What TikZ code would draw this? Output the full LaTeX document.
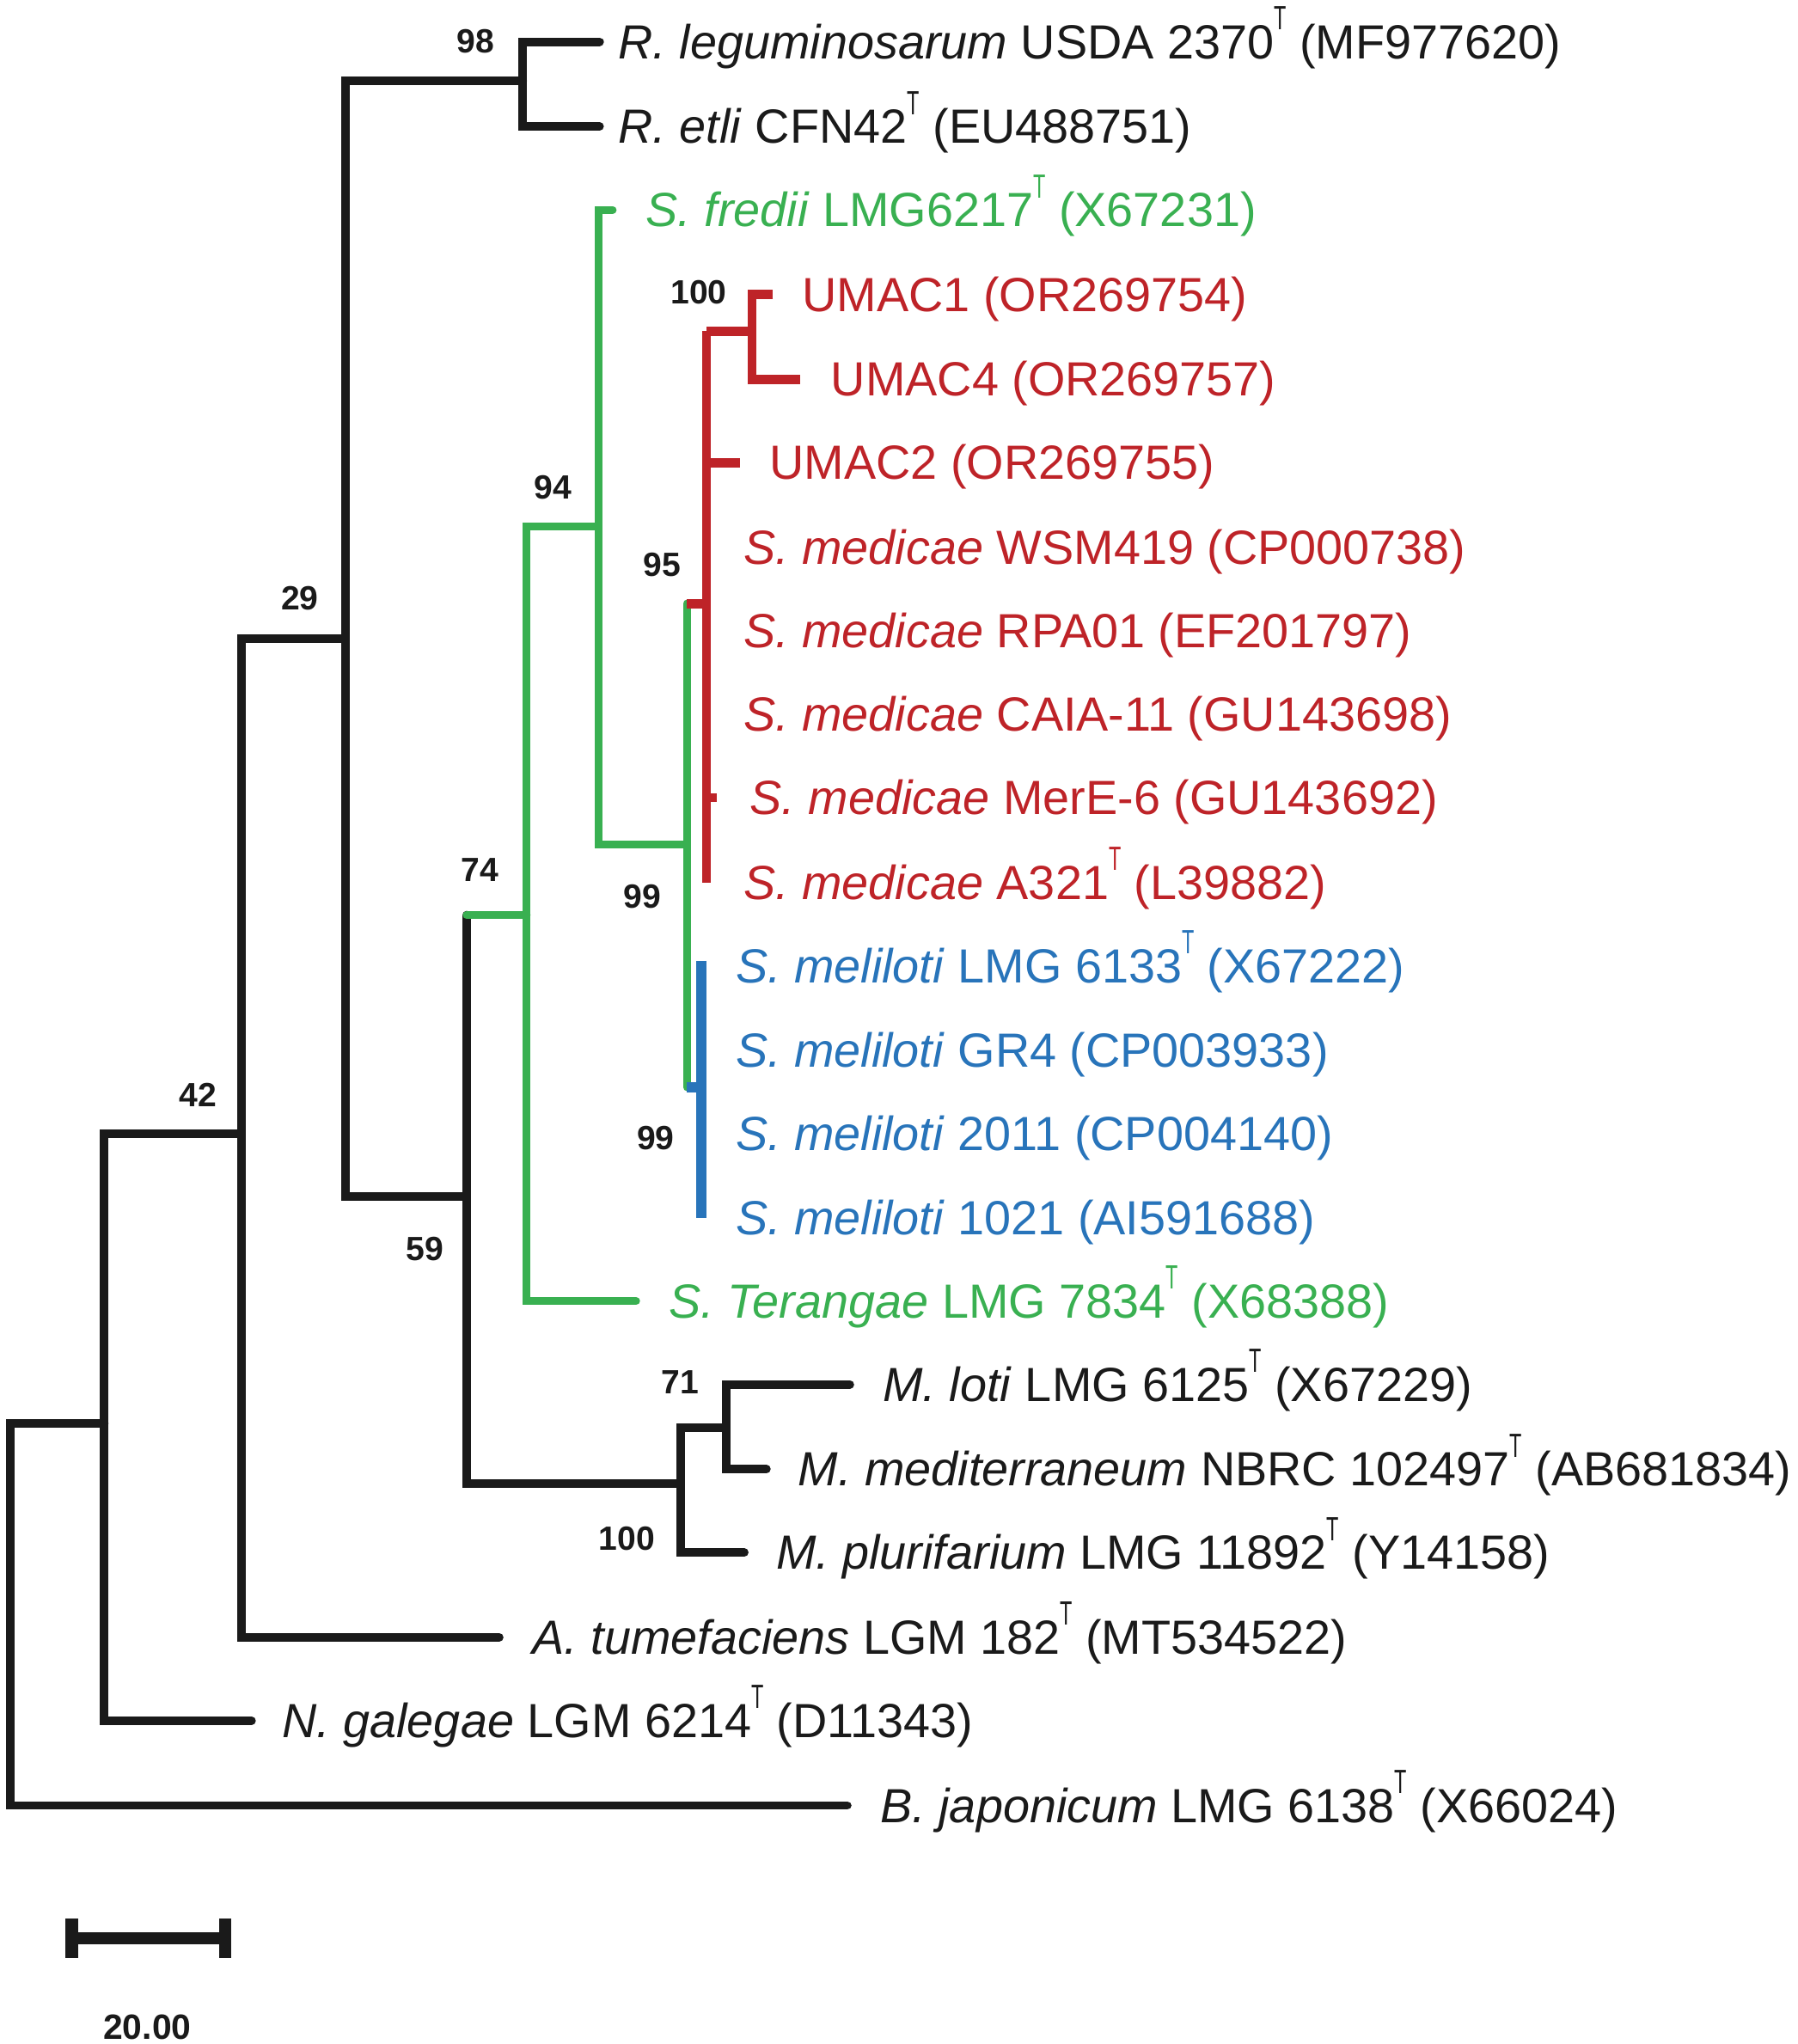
\documentclass[tikz,border=0pt]{standalone}
\usepackage{fontspec}
\usepackage{graphicx}
\setmainfont{Liberation Sans}
\definecolor{treeblack}{RGB}{26,26,26}
\definecolor{treegreen}{RGB}{57,176,81}
\definecolor{treered}{RGB}{190,35,40}
\definecolor{treeblue}{RGB}{40,116,186}
\newcommand{\typ}{\raisebox{0.6em}{\scalebox{0.6}[1]{\fontsize{11}{11}\selectfont T}}}

\begin{document}
\begin{tikzpicture}[x=0.15mm,y=-0.15mm,
    blk/.style={line width=2.8pt,color=treeblack,line cap=round},
    grn/.style={line width=2.6pt,color=treegreen,line cap=round},
    rd/.style={line width=3pt,color=treered},
    bl/.style={line width=3.2pt,color=treeblue},
    taxon/.style={anchor=base west,inner sep=0pt,yshift=-5.5pt,font=\fontsize{15.7}{18}\selectfont},
    boot/.style={inner sep=0pt,text=treeblack,font=\fontsize{11}{12}\selectfont\bfseries}]

    \useasboundingbox (0,0) rectangle (1379,1568);

    \coordinate (root) at (8,1240);
    \coordinate (b42) at (80,1092);
    \coordinate (b29) at (185,870);
    \coordinate (bRS) at (265,490);
    \coordinate (b98) at (401,62);
    \coordinate (b59) at (358,918);
    \coordinate (b74) at (404,702);
    \coordinate (b94) at (459,404);
    \coordinate (b99g) at (527,648);
    \coordinate (b95) at (542,463);
    \coordinate (b100u) at (577,254);
    \coordinate (b99b) at (538,834);
    \coordinate (bM) at (522,1138);
    \coordinate (b71) at (557,1095);

    \coordinate (rleg) at (460,32);
    \coordinate (retl) at (460,97);
    \coordinate (sfre) at (470,161);
    \coordinate (umac1) at (593,226);
    \coordinate (umac4) at (614,291);
    \coordinate (umac2) at (568,355);
    \coordinate (merE) at (550,612);
    \coordinate (a321) at (542,677);
    \coordinate (mel6133) at (538,737);
    \coordinate (mel1021) at (538,934);
    \coordinate (ster) at (488,998);
    \coordinate (mloti) at (652,1062);
    \coordinate (mmed) at (588,1127);
    \coordinate (mplu) at (571,1191);
    \coordinate (atum) at (383,1256);
    \coordinate (ngal) at (193,1320);
    \coordinate (bjap) at (650,1385);

    \draw[blk] (bjap) -| (root) |- (b42);
    \draw[blk] (ngal) -| (b42) |- (b29);
    \draw[blk] (atum) -| (b29) |- (bRS);
    \draw[blk] (b59) -| (bRS) |- (b98);
    \draw[blk] (rleg) -| (b98) |- (retl);
    \draw[blk] (bM) -| (b59) |- (b59 |- b74);
    \draw[blk] (mplu) -| (bM) |- (b71);
    \draw[blk] (mmed) -| (b71) |- (mloti);

    \draw[grn] (b59 |- b74) -- (b74);
    \draw[grn] (ster) -| (b74) |- (b94);
    \draw[grn] (sfre) -| (b94) |- (b99g);
    \draw[grn] (b99g |- b95) -- (b99g |- b99b);

    \draw[rd] (b99g |- b95) -- (b95);
    \draw[rd] (b95 |- b100u) -- (b95 |- a321);
    \draw[rd] (b95 |- b100u) -- (b100u);
    \draw[rd] (b95 |- umac2) -- (umac2);
    \draw[rd] (b95 |- merE) -- (merE);
    \draw[rd] (umac1) -| (b100u) |- (umac4);

    \draw[bl] (b99g |- b99b) -- (b99b);
    \draw[bl] (mel6133) -- (mel1021);

    \node[boot] (s98) at (365,32) {98};
    \node[boot] (s29) at (230,459) {29};
    \node[boot] (s42) at (152,840) {42};
    \node[boot] (s59) at (326,958) {59};
    \node[boot] (s74) at (368,667) {74};
    \node[boot] (s94) at (424,374) {94};
    \node[boot] (s95) at (508,433) {95};
    \node[boot] (s99g) at (493,688) {99};
    \node[boot] (s99b) at (503,873) {99};
    \node[boot] (s100u) at (536,224) {100};
    \node[boot] (s71) at (522,1060) {71};
    \node[boot] (s100m) at (481,1180) {100};

    \node[taxon,text=treeblack] (trleg) at (474,32) {\textit{R. leguminosarum} USDA 2370\typ\ (MF977620)};
    \node[taxon,text=treeblack] (tretl) at (474,97) {\textit{R. etli} CFN42\typ\ (EU488751)};
    \node[taxon,text=treegreen] (tsfre) at (495,161) {\textit{S. fredii} LMG6217\typ\ (X67231)};
    \node[taxon,text=treered] (tumac1) at (615,226) {UMAC1 (OR269754)};
    \node[taxon,text=treered] (tumac4) at (637,291) {UMAC4 (OR269757)};
    \node[taxon,text=treered] (tumac2) at (590,355) {UMAC2 (OR269755)};
    \node[taxon,text=treered] (twsm) at (570,420) {\textit{S. medicae} WSM419 (CP000738)};
    \node[taxon,text=treered] (trpa) at (570,484) {\textit{S. medicae} RPA01 (EF201797)};
    \node[taxon,text=treered] (tcaia) at (570,548) {\textit{S. medicae} CAIA-11 (GU143698)};
    \node[taxon,text=treered] (tmere) at (575,612) {\textit{S. medicae} MerE-6 (GU143692)};
    \node[taxon,text=treered] (ta321) at (570,677) {\textit{S. medicae} A321\typ\ (L39882)};
    \node[taxon,text=treeblue] (tmel6133) at (564,741) {\textit{S. meliloti} LMG 6133\typ\ (X67222)};
    \node[taxon,text=treeblue] (tgr4) at (564,806) {\textit{S. meliloti} GR4 (CP003933)};
    \node[taxon,text=treeblue] (tmel2011) at (564,870) {\textit{S. meliloti} 2011 (CP004140)};
    \node[taxon,text=treeblue] (tmel1021) at (564,934) {\textit{S. meliloti} 1021 (AI591688)};
    \node[taxon,text=treegreen] (tster) at (513,998) {\textit{S. Terangae} LMG 7834\typ\ (X68388)};
    \node[taxon,text=treeblack] (tmloti) at (677,1062) {\textit{M. loti} LMG 6125\typ\ (X67229)};
    \node[taxon,text=treeblack] (tmmed) at (612,1127) {\textit{M. mediterraneum} NBRC 102497\typ\ (AB681834)};
    \node[taxon,text=treeblack] (tmplu) at (595,1191) {\textit{M. plurifarium} LMG 11892\typ\ (Y14158)};
    \node[taxon,text=treeblack] (tatum) at (408,1256) {\textit{A. tumefaciens} LGM 182\typ\ (MT534522)};
    \node[taxon,text=treeblack] (tngal) at (216,1320) {\textit{N. galegae} LGM 6214\typ\ (D11343)};
    \node[taxon,text=treeblack] (tbjap) at (675,1385) {\textit{B. japonicum} LMG 6138\typ\ (X66024)};

    \coordinate (sbl) at (55,1487);
    \coordinate (sbr) at (173,1487);
    \draw[line width=3.8pt,color=treeblack] (sbl) -- (sbr);
    \draw[line width=4pt,color=treeblack] ([yshift=2.25mm]sbl) -- ([yshift=-2.25mm]sbl);
    \draw[line width=4pt,color=treeblack] ([yshift=2.25mm]sbr) -- ([yshift=-2.25mm]sbr);
    \node[boot,font=\fontsize{11.5}{12}\selectfont\bfseries] (sbar) at (113,1555) {20.00};

\end{tikzpicture}
\end{document}
